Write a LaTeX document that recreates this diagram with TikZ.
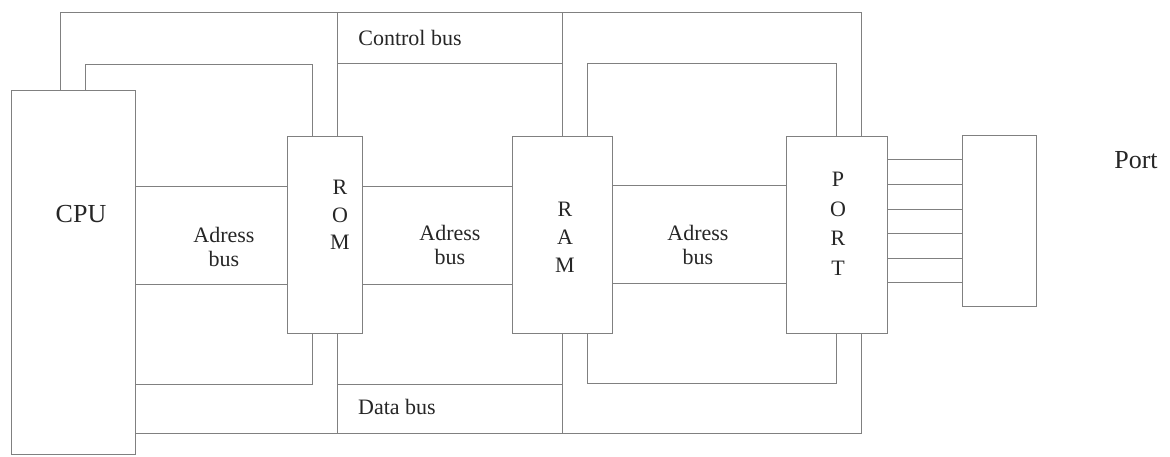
\documentclass[tikz,border=0pt]{standalone}
\usepackage{fontspec}
\setmainfont{Liberation Serif}
\begin{document}
\begin{tikzpicture}[x=1pt,y=-1pt,
  busline/.style={draw=black!50, line width=0.6pt},
  unitbox/.style={draw=black!50, line width=0.6pt, rectangle, inner sep=0pt},
  lbl/.style={text=black!85, inner sep=0pt, font=\fontsize{22}{24}\selectfont},
  big/.style={text=black!85, inner sep=0pt, font=\fontsize{26}{30}\selectfont},
  letters/.style={text=black!85, inner sep=0pt, align=center, anchor=north}]
\useasboundingbox (0,0) rectangle (1170,456);
% boxes
\node[unitbox, minimum width=124pt, minimum height=364pt] (cpu) at (73,272) {};
\node[unitbox, minimum width=75pt, minimum height=197pt] (rom) at (324.5,234.5) {};
\node[unitbox, minimum width=100pt, minimum height=197pt] (ram) at (562,234.5) {};
\node[unitbox, minimum width=101pt, minimum height=197pt] (port) at (836.5,234.5) {};
\node[unitbox, minimum width=74pt, minimum height=171pt] (pbox) at (999,220.5) {};
% labels
\node[big, anchor=base] (cpulbl) at (81,222) {CPU};
\node[big, anchor=base] (portlbl) at (1136,168) {Port};
\node[lbl, anchor=base] (ctl) at (410,45) {Control bus};
\node[lbl, anchor=base] (dat) at (397,414) {Data bus};
\node[lbl, letters, font=\fontsize{22}{24.5}\selectfont] (ad1) at (224,227) {Adress\\bus};
\node[lbl, letters, font=\fontsize{22}{24.5}\selectfont] (ad2) at (450,225) {Adress\\bus};
\node[lbl, letters, font=\fontsize{22}{24.5}\selectfont] (ad3) at (698,225) {Adress\\bus};
\node[lbl, letters, font=\fontsize{22}{27.5}\selectfont] (romt) at (340,180) {R\\O\\M};
\node[lbl, letters, font=\fontsize{22}{28}\selectfont] (ramt) at (565,202) {R\\A\\M};
\node[lbl, letters, font=\fontsize{22}{29.5}\selectfont] (portt) at (838,172) {P\\O\\R\\T};
% bus coordinates
\coordinate (cA) at (60,90);   \coordinate (cB) at (85,90);
\coordinate (t1) at (60,12);   \coordinate (t2) at (861,12);
\coordinate (u1) at (85,64);   \coordinate (u2) at (312,64);
\coordinate (romTA) at (312,136); \coordinate (romTB) at (337,136);
\coordinate (romBA) at (312,333); \coordinate (romBB) at (337,333);
\coordinate (ramTA) at (562,136); \coordinate (ramTB) at (587,136);
\coordinate (ramBA) at (562,333); \coordinate (ramBB) at (587,333);
\coordinate (portTA) at (836,136); \coordinate (portTB) at (861,136);
\coordinate (portBA) at (836,333); \coordinate (portBB) at (861,333);
\coordinate (ctlA) at (337,12); \coordinate (ctlB) at (562,12);
\coordinate (ctlC) at (337,63); \coordinate (ctlD) at (562,63);
\coordinate (ctlE) at (587,63); \coordinate (ctlF) at (836,63);
\coordinate (dA) at (135,384); \coordinate (dB) at (312,384);
\coordinate (dC) at (135,433); \coordinate (dD) at (861,433);
\coordinate (dE) at (337,433); \coordinate (dF) at (337,384);
\coordinate (dG) at (562,384); \coordinate (dH) at (562,433);
\coordinate (dI) at (587,383); \coordinate (dJ) at (836,383);
% control bus
\draw[busline] (cA) -- (t1) -- (t2) -- (portTB);
\draw[busline] (ctlA) -- (romTB);
\draw[busline] (ctlB) -- (ramTA);
\draw[busline] (cB) -- (u1) -- (u2) -- (romTA);
\draw[busline] (ctlC) -- (ctlD);
\draw[busline] (ramTB) -- (ctlE) -- (ctlF) -- (portTA);
% data bus
\draw[busline] (dA) -- (dB) -- (romBA);
\draw[busline] (dC) -- (dD) -- (portBB);
\draw[busline] (romBB) -- (dE);
\draw[busline] (dF) -- (dG);
\draw[busline] (ramBA) -- (dH);
\draw[busline] (ramBB) -- (dI) -- (dJ) -- (portBA);
% address bus
\draw[busline] (cpu.east |- 0,186) -- (rom.west |- 0,186);
\draw[busline] (cpu.east |- 0,284) -- (rom.west |- 0,284);
\draw[busline] (rom.east |- 0,186) -- (ram.west |- 0,186);
\draw[busline] (rom.east |- 0,284) -- (ram.west |- 0,284);
\draw[busline] (ram.east |- 0,185) -- (port.west |- 0,185);
\draw[busline] (ram.east |- 0,283) -- (port.west |- 0,283);
% port lines
\foreach \yy in {159,184,209,233,258,282}
  \draw[busline] (port.east |- 0,\yy) -- (pbox.west |- 0,\yy);
\end{tikzpicture}
\end{document}
